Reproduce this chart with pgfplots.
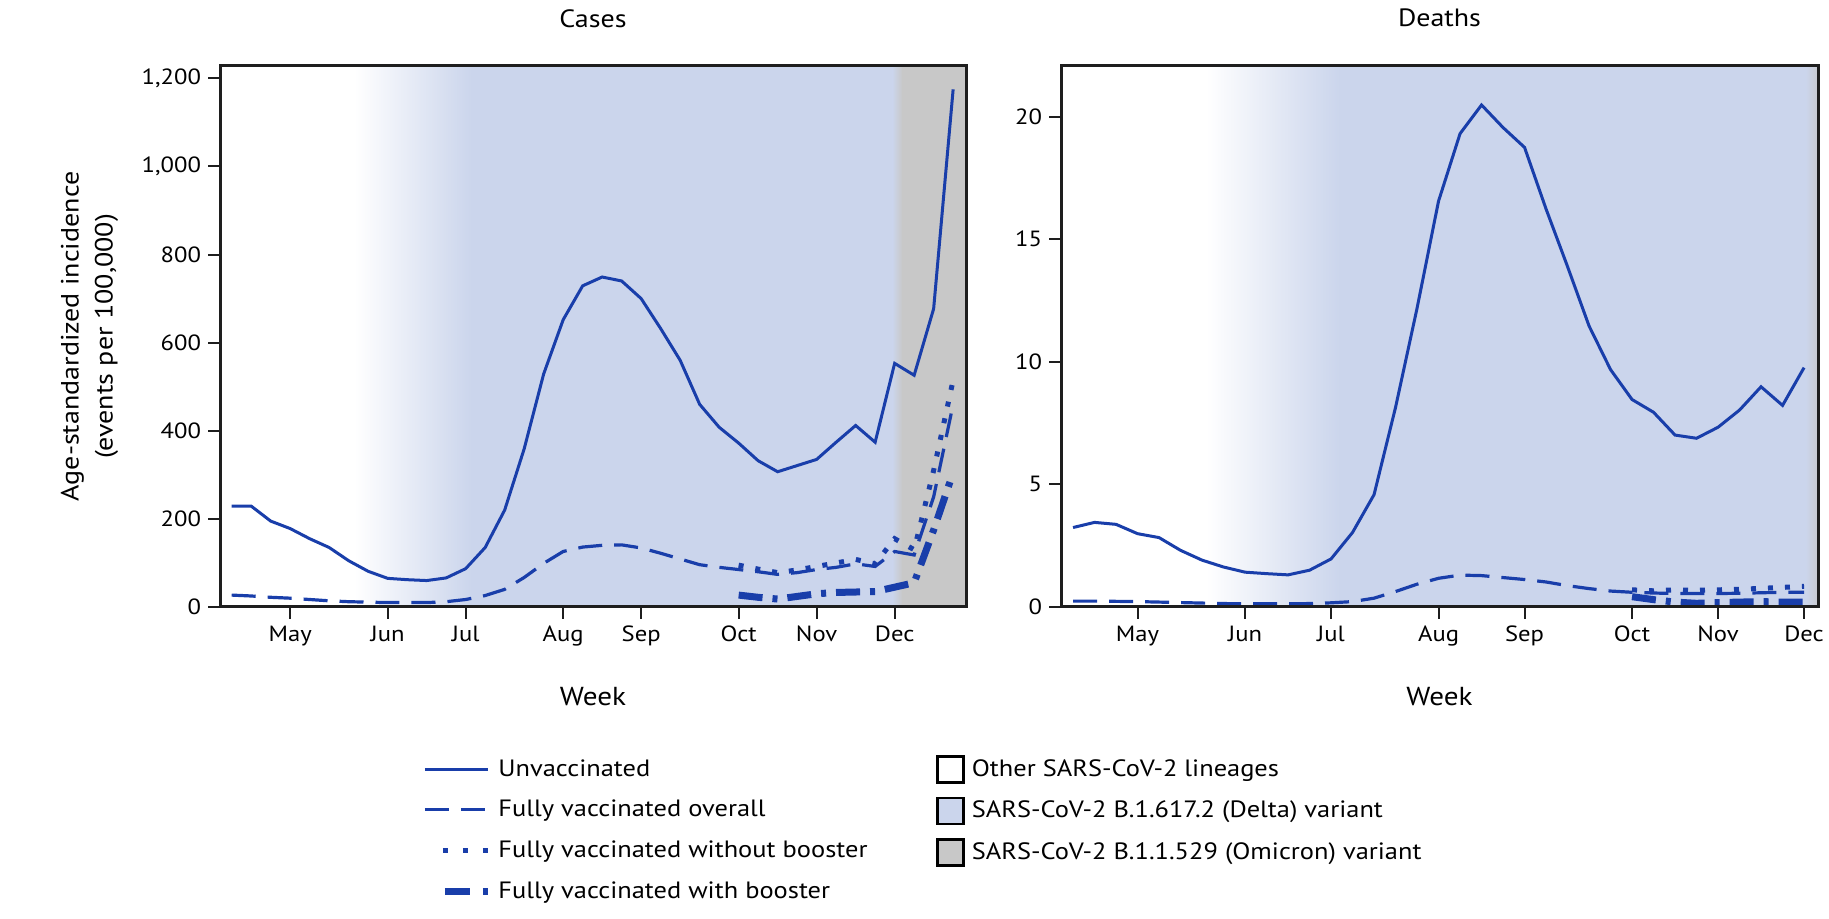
\documentclass[border=0pt]{standalone}
\usepackage{fontspec}
\setmainfont{PT Sans}[FakeStretch=1.12]
\usepackage{pgfplots}
\usepackage{pgfplotstable}
\pgfplotsset{compat=1.18}

\definecolor{deltablue}{RGB}{203,213,236}
\definecolor{omigray}{RGB}{200,200,200}
\definecolor{lineblue}{RGB}{25,62,170}
\definecolor{axisgray}{RGB}{30,30,30}

% weekly age-standardized incidence, week 0 = first week shown
\pgfplotstableread{
w unvax overall
0 229 27
1 229 25
2 195 22
3 178 20
4 155 17
5 135 14
6 105 12
7 81 11
8 65 10
9 62 10
10 60 10
11 66 12
12 87 17
13 135 26
14 220 40
15 359 67
16 529 99
17 652 126
18 729 136
19 749 140
20 740 141
21 700 134
22 632 122
23 560 109
24 460 96
25 408 90
26 372 85
27 332 80
28 307 74
29 321 78
30 335 85
31 374 90
32 412 98
33 374 92
34 553 126
35 526 118
36 677 250
37 1175 460
}\casesall

\pgfplotstableread{
w nobooster booster
26 95 27
27 86 22
28 78 18
29 84 24
30 92 30
31 100 33
32 108 34
33 98 35
34 155 45
35 130 55
36 310 175
37 515 305
}\casesboost

\pgfplotstableread{
w unvax overall
0 3.24 0.24
1 3.45 0.24
2 3.37 0.23
3 2.99 0.22
4 2.83 0.20
5 2.31 0.18
6 1.91 0.16
7 1.63 0.14
8 1.42 0.13
9 1.36 0.13
10 1.31 0.13
11 1.50 0.14
12 1.96 0.17
13 3.04 0.22
14 4.58 0.36
15 8.14 0.63
16 12.18 0.93
17 16.55 1.17
18 19.30 1.30
19 20.47 1.28
20 19.55 1.20
21 18.74 1.12
22 16.23 1.02
23 13.88 0.87
24 11.46 0.75
25 9.68 0.65
26 8.46 0.60
27 7.94 0.57
28 7.01 0.55
29 6.88 0.55
30 7.33 0.55
31 8.03 0.56
32 8.98 0.58
33 8.22 0.60
34 9.76 0.60
}\deathsall

\pgfplotstableread{
w nobooster booster
26 0.70 0.42
27 0.66 0.30
28 0.70 0.20
29 0.68 0.15
30 0.70 0.18
31 0.72 0.20
32 0.76 0.22
33 0.80 0.20
34 0.84 0.20
}\deathsboost

\pgfplotsset{
  panel/.style={
    scale only axis, height=270.5pt, axis on top,
    ymin=0,
    axis line style={line width=1.5pt, axisgray},
    tick style={line width=1pt, axisgray},
    tick align=outside, major tick length=6pt,
    xtick pos=left, ytick pos=left,
    xtick={3,8,12,17,21,26,30,34},
    xticklabels={May,Jun,Jul,Aug,Sep,Oct,Nov,Dec},
    ticklabel style={font=\fontsize{11}{13}\selectfont, text=black},
    /pgf/number format/assume math mode=true,
    /pgf/number format/1000 sep={,},
    xlabel={Week},
    xlabel style={at={(axis description cs:0.5,-0.166)}, anchor=center,
      font=\fontsize{13}{15}\selectfont},
    title style={at={(axis description cs:0.5,1.066)}, anchor=center,
      font=\fontsize{12.5}{15}\selectfont},
    legend style={draw=none, fill=none, font=\fontsize{11.8}{14}\selectfont,
      row sep=6.5pt, /tikz/every odd column/.append style={column sep=1.5pt}},
    legend cell align=left,
  },
  unvax/.style={lineblue, line width=1.5pt, solid,
    legend image code/.code={\draw[##1] (0pt,0pt) -- (31.5pt,0pt);}},
  overall/.style={lineblue, line width=1.6pt, dash pattern=on 12pt off 6pt,
    legend image code/.code={\draw[##1] (0pt,0pt) -- (31.5pt,0pt);}},
  nobooster/.style={lineblue, line width=2.5pt, dash pattern=on 2.5pt off 6pt,
    legend image code/.code={\draw[##1, dash pattern=on 2.5pt off 7.5pt] (9pt,0pt) -- (31.5pt,0pt);}},
  booster/.style={lineblue, line width=3.5pt, dash pattern=on 12pt off 5pt on 2.5pt off 5pt,
    legend image code/.code={\draw[##1, dash pattern=on 12.5pt off 6.5pt on 2.5pt off 9pt] (10pt,0pt) -- (31.5pt,0pt);}},
  variant/.style={draw=black, line width=1.2pt, fill=#1,
    legend image code/.code={\draw[##1] (0pt,-6.5pt) rectangle (13pt,6.5pt);}},
}

\begin{document}
\begin{tikzpicture}
\path[use as bounding box] (0,0) rectangle (914.5pt,459.5pt);

\begin{axis}[panel, at={(110pt,156pt)}, anchor=south west, width=373pt,
  xmin=-0.6, xmax=37.66, ymax=1228, ytick={0,200,...,1200},
  title={Cases},
  ylabel={Age-standardized incidence\\(events per 100,000)},
  ylabel style={at={(axis description cs:-0.175,0.5)}, anchor=center,
    align=center, font=\fontsize{12.5}{17}\selectfont},
  legend style={at={(axis description cs:0.264,-0.266)}, anchor=north west},
]
\fill[left color=white, right color=deltablue] (axis cs:6.3,0) rectangle (axis cs:12.3,1300);
\fill[deltablue] (axis cs:12.28,0) rectangle (axis cs:33.9,1300);
\fill[left color=deltablue, right color=omigray] (axis cs:33.88,0) rectangle (axis cs:34.4,1300);
\fill[omigray] (axis cs:34.38,0) rectangle (axis cs:40,1300);
\addplot[unvax] table[x=w, y=unvax] {\casesall};
\addlegendentry{Unvaccinated}
\addplot[overall] table[x=w, y=overall] {\casesall};
\addlegendentry{Fully vaccinated overall}
\addplot[nobooster] table[x=w, y=nobooster] {\casesboost};
\addlegendentry{Fully vaccinated without booster}
\addplot[booster] table[x=w, y=booster] {\casesboost};
\addlegendentry{Fully vaccinated with booster}
\end{axis}

\begin{axis}[panel, at={(530.5pt,156pt)}, anchor=south west, width=378.5pt,
  xmin=-0.56, xmax=34.65, ymax=22.06, ytick={0,5,...,20},
  title={Deaths},
  legend style={at={(axis description cs:-0.173,-0.266)}, anchor=north west},
]
\addlegendimage{variant=white}
\addlegendentry{Other SARS-CoV-2 lineages}
\addlegendimage{variant=deltablue}
\addlegendentry{SARS-CoV-2 B.1.617.2 (Delta) variant}
\addlegendimage{variant=omigray}
\addlegendentry{SARS-CoV-2 B.1.1.529 (Omicron) variant}
\fill[left color=white, right color=deltablue] (axis cs:6.2,0) rectangle (axis cs:12.4,25);
\fill[deltablue] (axis cs:12.38,0) rectangle (axis cs:34.1,25);
\fill[left color=deltablue, right color=omigray] (axis cs:34.08,0) rectangle (axis cs:34.8,25);
\addplot[unvax, forget plot] table[x=w, y=unvax] {\deathsall};
\addplot[overall, forget plot] table[x=w, y=overall] {\deathsall};
\addplot[nobooster, forget plot] table[x=w, y=nobooster] {\deathsboost};
\addplot[booster, forget plot] table[x=w, y=booster] {\deathsboost};
\end{axis}
\end{tikzpicture}
\end{document}
